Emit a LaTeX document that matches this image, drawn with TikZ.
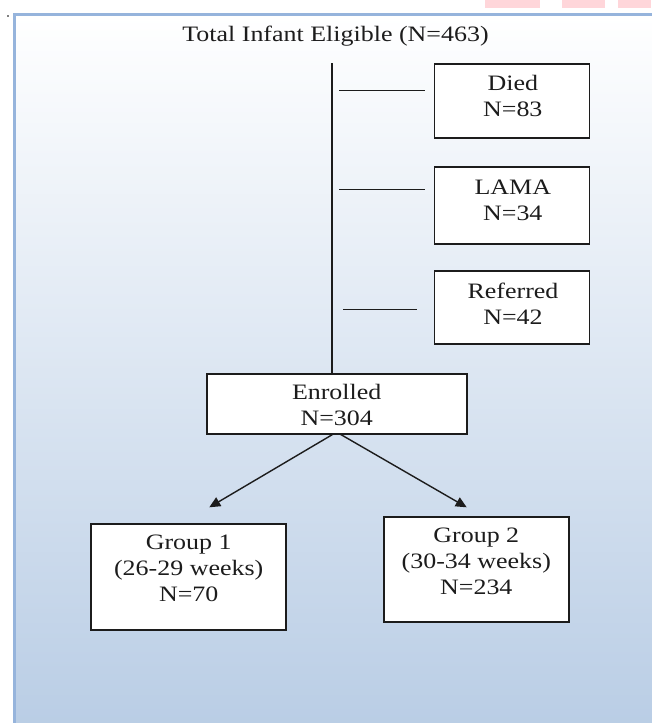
\documentclass[tikz,border=0pt]{standalone}
\usepackage{fontspec}
\setmainfont{Liberation Serif}[FakeStretch=1.18]
\usetikzlibrary{arrows.meta}
\definecolor{bgbot}{RGB}{185,205,229}
\definecolor{bgmid}{RGB}{220,229,241}
\definecolor{frameblue}{RGB}{150,180,220}
\definecolor{ink}{RGB}{28,28,28}
\definecolor{pinkmark}{RGB}{255,214,218}
\begin{document}
\begin{tikzpicture}[x=1pt,y=-1pt,
  box/.style={draw=ink, line width=1.8pt, fill=white, inner sep=0pt, outer sep=0pt},
  txt/.style={font=\fontsize{22}{26}\selectfont, text=ink, align=center, inner sep=0pt, anchor=north},
  trunk/.style={draw=ink, line width=1.8pt},
  branch/.style={draw=ink, line width=1.4pt},
  arr/.style={draw=ink, line width=1.4pt, -{Triangle[length=11pt,width=10pt]}}]
\useasboundingbox (0,0) rectangle (651,723);
% background panel
\shade[top color=white, middle color=bgmid, bottom color=bgbot] (15,15) rectangle (655,730);
\draw[frameblue, line width=2.5pt] (14.5,730) -- (14.5,14.5) -- (660,14.5);
% stray marks at the top
\fill[pinkmark] (485,0) rectangle (540,8);
\fill[pinkmark] (562,0) rectangle (605,8);
\fill[pinkmark] (618,0) rectangle (651,8);
\fill[gray] (7,15) rectangle (9,17);

% title
\node[txt, anchor=base] (title) at (335.5,41) {Total Infant Eligible (N=463)};

% boxes
\node[box, minimum width=155, minimum height=74.3] (died) at (512,101.2) {};
\node[box, minimum width=155, minimum height=77.3] (lama) at (512,205.3) {};
\node[box, minimum width=155, minimum height=73] (ref) at (512,307.5) {};
\node[box, minimum width=260, minimum height=59.7] (enr) at (337.3,404.2) {};
\node[box, minimum width=194.7, minimum height=106.6] (g1) at (188.4,577) {};
\node[box, minimum width=185.3, minimum height=105] (g2) at (476.7,569.8) {};

% box texts
\node[txt] (diedt) at (512.8,72.5) {\strut Died\\\strut N=83};
\node[txt] (lamat) at (512.8,175.8) {\strut LAMA\\\strut N=34};
\node[txt] (reft) at (513,280.1) {\strut Referred\\\strut N=42};
\node[txt] (enrt) at (336.7,380.8) {\strut Enrolled\\\strut N=304};
\node[txt] (g1t) at (188.7,531.1) {\strut Group 1\\\strut (26-29 weeks)\\\strut N=70};
\node[txt] (g2t) at (476.3,524.5) {\strut Group 2\\\strut (30-34 weeks)\\\strut N=234};

% trunk and branches
\coordinate (top) at (332,63.3);
\draw[trunk] (top) -- (top |- enr.north);
\coordinate (b1) at (339,90.7);
\coordinate (b2) at (339,189.3);
\coordinate (b3) at (343,309.3);
\draw[branch, shorten >=9.6pt] (b1) -- (b1 -| died.west);
\draw[branch, shorten >=9.6pt] (b2) -- (b2 -| lama.west);
\draw[branch, shorten >=17.6pt] (b3) -- (b3 -| ref.west);

% arrows to groups
\coordinate (a1) at (209.3,507.3);
\coordinate (a2) at (466.7,507.3);
\draw[arr] ([xshift=-4pt]enr.south) -- (a1);
\draw[arr] ([xshift=2.7pt]enr.south) -- (a2);
\end{tikzpicture}
\end{document}
